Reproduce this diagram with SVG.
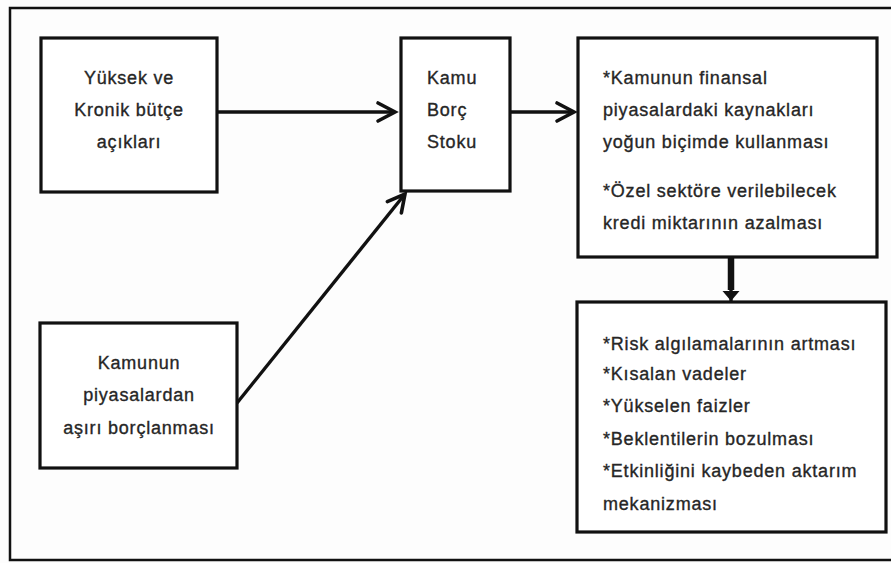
<svg xmlns="http://www.w3.org/2000/svg" width="891" height="563" viewBox="0 0 891 563">
<style>
  .frame { fill: none; stroke: #111; stroke-width: 2.5; }
  .box { fill: #ffffff; stroke: #111; stroke-width: 3.2; }
  .t { font-family: "Liberation Sans", Arial, sans-serif; font-size: 18px; letter-spacing: 0.8px; fill: #262626; stroke: #262626; stroke-width: 0.35px; }
  .c { text-anchor: middle; }
  .conn { fill: none; stroke: #111; stroke-width: 3.4; }
  .thick { fill: none; stroke: #111; stroke-width: 6.5; }
</style>
<defs>
  <marker id="chev" markerUnits="userSpaceOnUse" viewBox="-24 -14 28 28" refX="0" refY="0" markerWidth="28" markerHeight="28" orient="auto">
    <path d="M-17,-9 L0,0 L-17,9" fill="none" stroke="#111" stroke-width="3.6" stroke-linecap="round" stroke-linejoin="miter"/>
  </marker>
  <marker id="tri" markerUnits="userSpaceOnUse" viewBox="-12 -10 14 20" refX="0" refY="0" markerWidth="14" markerHeight="20" orient="auto">
    <path d="M-10,-8.5 L0,0 L-10,8.5 Z" fill="#111"/>
  </marker>
</defs>
<rect width="891" height="563" fill="#fdfdfd"/>
<rect class="frame" x="10" y="8" width="884" height="552"/>

<g id="connectors">
  <line class="conn" x1="217" y1="112" x2="395" y2="112" marker-end="url(#chev)"/>
  <line class="conn" x1="237" y1="403" x2="405" y2="194" marker-end="url(#chev)"/>
  <line class="conn" x1="510" y1="112" x2="574" y2="112" marker-end="url(#chev)"/>
  <line class="thick" x1="731" y1="258" x2="731" y2="290"/>
  <line class="conn" x1="731" y1="288" x2="731" y2="301" stroke-width="0.1" marker-end="url(#tri)"/>
</g>

<g id="node-butce">
  <rect class="box" x="41" y="38" width="176" height="154"/>
  <text class="t c" x="129" y="84">Yüksek ve</text>
  <text class="t c" x="129" y="116">Kronik bütçe</text>
  <text class="t c" x="129" y="148">açıkları</text>
</g>

<g id="node-borc-stoku">
  <rect class="box" x="401" y="38" width="109" height="153"/>
  <text class="t" x="427" y="84">Kamu</text>
  <text class="t" x="427" y="116">Borç</text>
  <text class="t" x="427" y="148">Stoku</text>
</g>

<g id="node-finansal">
  <rect class="box" x="578" y="38" width="299" height="219"/>
  <text class="t" x="603" y="84">*Kamunun finansal</text>
  <text class="t" x="603" y="116">piyasalardaki kaynakları</text>
  <text class="t" x="603" y="148">yoğun biçimde kullanması</text>
  <text class="t" x="603" y="197">*Özel sektöre verilebilecek</text>
  <text class="t" x="603" y="229">kredi miktarının azalması</text>
</g>

<g id="node-borclanma">
  <rect class="box" x="40" y="323" width="197" height="145"/>
  <text class="t c" x="139" y="369">Kamunun</text>
  <text class="t c" x="139" y="401">piyasalardan</text>
  <text class="t c" x="139" y="434">aşırı borçlanması</text>
</g>

<g id="node-sonuclar">
  <rect class="box" x="577" y="302" width="309" height="230"/>
  <text class="t" x="603" y="350">*Risk algılamalarının artması</text>
  <text class="t" x="603" y="380">*Kısalan vadeler</text>
  <text class="t" x="603" y="412">*Yükselen faizler</text>
  <text class="t" x="603" y="445">*Beklentilerin bozulması</text>
  <text class="t" x="603" y="477">*Etkinliğini kaybeden aktarım</text>
  <text class="t" x="603" y="510">mekanizması</text>
</g>
</svg>
